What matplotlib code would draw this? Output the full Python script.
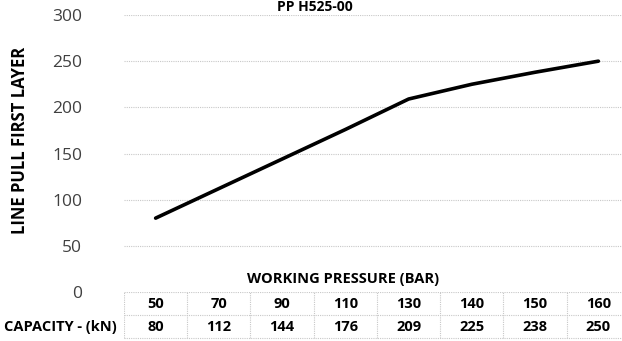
import matplotlib
matplotlib.use("Agg")
import matplotlib.pyplot as plt

# working pressure (bar) and the matching line pull capacity (kN)
pressure = [50, 70, 90, 110, 130, 140, 150, 160]
capacity = [80, 112, 144, 176, 209, 225, 238, 250]
y_ticks = [0, 50, 100, 150, 200, 250, 300]

TITLE = "PP H525-00"
GRID = "#c8c8c8"
TXT = "#404040"

plt.rcParams['font.family'] = ['Open Sans', 'DejaVu Sans']

W, H = 622, 341
fig = plt.figure(figsize=(W / 100, H / 100), dpi=100)

# plot area, in pixels: left 124, right 630 (runs off the edge), top 15, bottom 292
x0, x1, ytop, ybot = 124, 630, 15, 292
ax = fig.add_axes([x0 / W, 1 - ybot / H, (x1 - x0) / W, (ybot - ytop) / H])
ax.set_xlim(-0.5, len(pressure) - 0.5)
ax.set_ylim(0, 300)
ax.set_yticks(y_ticks)
ax.set_yticklabels([str(v) for v in y_ticks], fontsize=12.5, color=TXT)
ax.tick_params(axis='y', length=0, pad=30)
ax.set_xticks([])
for s in ax.spines.values():
    s.set_visible(False)
for v in y_ticks[1:]:
    ax.axhline(v, color=GRID, lw=0.8, ls=(0, (1, 1)), zorder=0)

idx = list(range(len(pressure)))
ax.plot(idx, capacity, color="black", lw=2.6, solid_capstyle='round', zorder=3)

fig.text(20 / W, 1 - 140 / H, "LINE PULL FIRST LAYER", rotation=90,
         ha='center', va='center', fontsize=12, fontweight='bold')

# data table underneath the chart
tb = fig.add_axes([x0 / W, 0, (x1 - x0) / W, (H - ybot) / H])
tb.set_xlim(-0.5, len(pressure) - 0.5)
tb.set_ylim(-(H - ybot), 0)
tb.axis('off')
row1, row2 = -12, -35
tb.hlines([0, -23, -46], -0.5, len(pressure) - 0.5, color=GRID, lw=0.8,
          ls=(0, (1, 1)))
tb.vlines([i - 0.5 for i in range(len(pressure) + 1)], -46, 0, color=GRID,
          lw=0.8, ls=(0, (1, 1)))
for i, (p, c) in enumerate(zip(pressure, capacity)):
    tb.text(i, row1, str(p), ha='center', va='center', fontsize=10.5,
            fontweight='bold')
    tb.text(i, row2, str(c), ha='center', va='center', fontsize=10.5,
            fontweight='bold')

fig.text(343 / W, 1 - 279 / H, "WORKING PRESSURE (BAR)", ha='center',
         va='center', fontsize=10.5, fontweight='bold')
fig.text(60 / W, 1 - 327 / H, "CAPACITY - (kN)", ha='center', va='center',
         fontsize=10.5, fontweight='bold')

fig.text(315 / W, 1 - 11 / H, TITLE, ha='center', va='baseline',
         fontsize=10, fontweight='bold')

fig.savefig("out.png", dpi=100)
